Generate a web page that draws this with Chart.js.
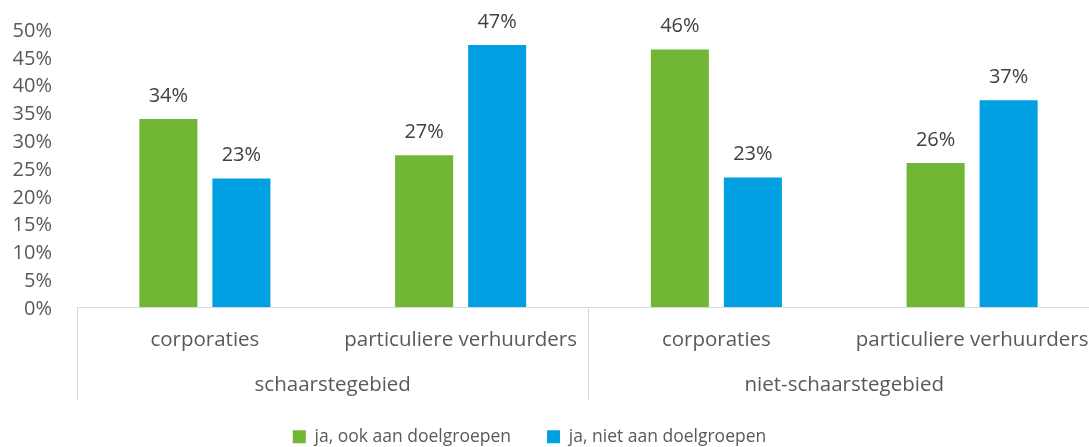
<!DOCTYPE html>
<html>
<head>
<meta charset="utf-8">
<script src="https://cdn.jsdelivr.net/npm/chart.js@4.4.1/dist/chart.umd.min.js"></script>
<style>
  html, body { margin: 0; padding: 0; overflow: hidden; background: #fff; }
  #wrap { width: 1100px; height: 447px; }
</style>
</head>
<body>
<div id="wrap"><canvas id="chart"></canvas></div>
<script>
const subCategories = ["corporaties", "particuliere verhuurders", "corporaties", "particuliere verhuurders"];
const regions = ["schaarstegebied", "niet-schaarstegebied"];
const seriesNames = ["ja, ook aan doelgroepen", "ja, niet aan doelgroepen"];
const ookAanDoelgroepen = [33.8, 27.3, 46.3, 25.9];
const nietAanDoelgroepen = [23.1, 47.1, 23.3, 37.2];
const yTicks = [0, 5, 10, 15, 20, 25, 30, 35, 40, 45, 50];

const FONT = "'Open Sans', 'Noto Sans', sans-serif";
const GREY = "#595959";
const LINE = "#d9d9d9";

// value labels above the bars
const barValues = {
    id: "barValues",
    afterDatasetsDraw(chart) {
        const ctx = chart.ctx;
        ctx.save();
        ctx.font = "20px " + FONT;
        ctx.fillStyle = "#404040";
        ctx.textAlign = "center";
        ctx.textBaseline = "middle";
        chart.data.datasets.forEach((ds, di) => {
            chart.getDatasetMeta(di).data.forEach((bar, i) => {
                ctx.fillText(Math.round(ds.data[i]) + "%", bar.x, bar.y - 23);
            });
        });
        ctx.restore();
    }
};

new Chart(document.getElementById("chart"), {
    type: "bar",
    data: {
        labels: subCategories,
        datasets: [
            {label: seriesNames[0], data: ookAanDoelgroepen, backgroundColor: "#72b636"},
            {label: seriesNames[1], data: nietAanDoelgroepen, backgroundColor: "#00a0e2"}
        ]
    },
    options: {
        responsive: true,
        maintainAspectRatio: false,
        animation: false,
        categoryPercentage: 0.571,
        barPercentage: 0.795,
        layout: {padding: {top: 24, left: -41, right: 0, bottom: 0}},
        plugins: {
            tooltip: {enabled: false},
            legend: {
                position: "bottom",
                maxHeight: 55,
                labels: {
                    boxWidth: 13, boxHeight: 13, padding: 36,
                    color: GREY, font: {family: FONT, size: 17.5}
                }
            }
        },
        scales: {
            y: {
                min: 0, max: 50,
                afterBuildTicks: s => { s.ticks = yTicks.map(v => ({value: v})); },
                afterFit: s => { s.width = 118; },
                grid: {display: false},
                border: {display: false},
                ticks: {
                    padding: 17, labelOffset: 2, color: GREY, font: {family: FONT, size: 20},
                    callback: v => v + "%"
                }
            },
            x: {
                offset: true,
                afterFit: s => { s.height = 46; },
                grid: {
                    offset: true, drawOnChartArea: false, tickLength: 46,
                    color: c => c.index % 2 === 0 ? LINE : "rgba(0,0,0,0)"
                },
                border: {display: true, color: LINE},
                ticks: {padding: -25, color: GREY, font: {family: FONT, size: 20.5}, maxRotation: 0, autoSkip: false}
            },
            x2: {
                type: "category",
                labels: regions,
                position: "bottom",
                offset: true,
                afterFit: s => { s.height = 39; },
                grid: {offset: true, drawOnChartArea: false, tickLength: 47, color: LINE},
                border: {display: false},
                // mirror keeps the labels from being clipped to the shortened axis box
                ticks: {mirror: true, padding: -44, color: GREY, font: {family: FONT, size: 20.5}, maxRotation: 0, autoSkip: false}
            }
        }
    },
    plugins: [barValues]
});
</script>
</body>
</html>
